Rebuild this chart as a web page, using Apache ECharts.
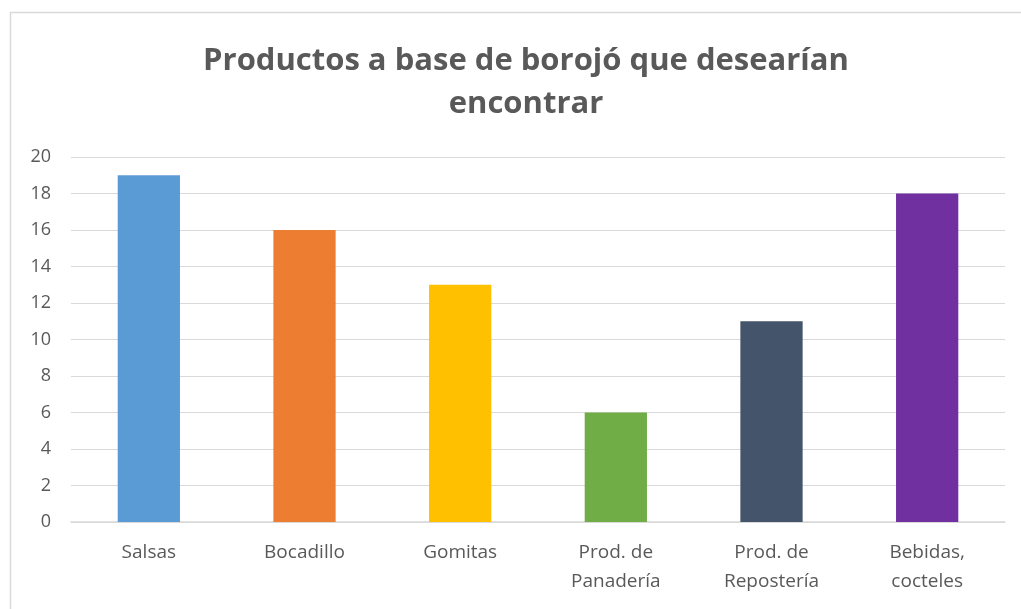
<!DOCTYPE html>
<html>
<head>
<meta charset="utf-8">
<script src="https://cdn.jsdelivr.net/npm/echarts@6/dist/echarts.min.js"></script>
<style>
  html, body { margin: 0; padding: 0; background: #fff; }
  #chart { width: 1021px; height: 609px; }
</style>
</head>
<body>
<div id="chart"></div>
<script>
const categories = ['Salsas', 'Bocadillo', 'Gomitas', 'Prod. de\nPanadería', 'Prod. de\nRepostería', 'Bebidas,\ncocteles'];
const values = [19, 16, 13, 6, 11, 18];
const barColors = ['#5b9bd5', '#ed7d31', '#ffc000', '#70ad47', '#44546a', '#7030a0'];
const yTicks = { min: 0, max: 20, interval: 2 };

const FONT = '"Open Sans", "Noto Sans", sans-serif';

const chart = echarts.init(document.getElementById('chart'), null, { renderer: 'canvas' });
chart.setOption({
  backgroundColor: '#ffffff',
  animation: false,
  graphic: [{
    type: 'rect',
    shape: { x: 10.5, y: 12.5, width: 1030, height: 620 },
    style: { fill: 'none', stroke: '#d9d9d9', lineWidth: 1.5 },
    silent: true
  }],
  title: {
    text: 'Productos a base de borojó que desearían\nencontrar',
    left: 521,
    textAlign: 'center',
    top: 35,
    textStyle: {
      fontFamily: FONT,
      fontWeight: 'bold',
      fontSize: 31,
      color: '#595959',
      lineHeight: 43
    }
  },
  grid: { left: 71, right: 16, top: 157, bottom: 87 },
  xAxis: {
    type: 'category',
    data: categories,
    axisTick: { show: false },
    axisLine: { lineStyle: { color: '#d9d9d9', width: 1.5 } },
    axisLabel: {
      fontFamily: FONT,
      fontSize: 19,
      color: '#595959',
      lineHeight: 29,
      margin: 16,
      interval: 0
    }
  },
  yAxis: {
    type: 'value',
    min: yTicks.min,
    max: yTicks.max,
    interval: yTicks.interval,
    axisLine: { show: false },
    axisTick: { show: false },
    splitLine: { lineStyle: { color: '#d9d9d9', width: 1.2 } },
    axisLabel: {
      fontFamily: FONT,
      fontSize: 18,
      color: '#595959',
      margin: 20
    }
  },
  series: [{
    type: 'bar',
    data: values.map((v, i) => ({ value: v, itemStyle: { color: barColors[i] } })),
    barWidth: '40%'
  }]
});
</script>
</body>
</html>
